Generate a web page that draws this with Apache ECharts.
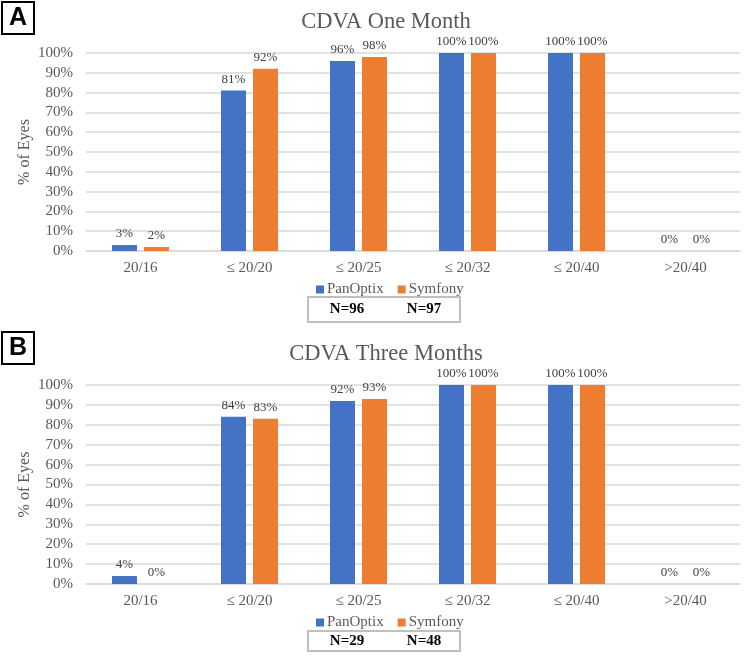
<!DOCTYPE html>
<html>
<head>
<meta charset="utf-8">
<script src="https://cdn.jsdelivr.net/npm/echarts@6/dist/echarts.min.js"></script>
<style>html,body{margin:0;padding:0;background:#fff;}#c{width:751px;height:657px;}</style>
</head>
<body>
<div id="c"></div>
<script>
const categories = ['20/16', '\u2264 20/20', '\u2264 20/25', '\u2264 20/32', '\u2264 20/40', '>20/40'];
const seriesNames = ['PanOptix', 'Symfony'];
const panOptixOneMonth = [3, 81, 96, 100, 100, 0];
const symfonyOneMonth = [2, 92, 98, 100, 100, 0];
const panOptixThreeMonths = [4, 84, 92, 100, 100, 0];
const symfonyThreeMonths = [0, 83, 93, 100, 100, 0];
const nOneMonth = ['N=96', 'N=97'];
const nThreeMonths = ['N=29', 'N=48'];
const titles = ['CDVA One Month', 'CDVA Three Months'];
const panelLetters = ['A', 'B'];
const yAxisName = '% of Eyes';

const SERIF = "'Liberation Serif', 'Times New Roman', serif";
const colors = ['#4472C4', '#ED7D31'];
const grids = [{ left: 86, right: 11, top: 53, height: 198 }, { left: 86, right: 11, top: 385, height: 199 }];

function yAxis(i) {
  return {
    type: 'value', gridIndex: i, min: 0, max: 100, interval: 10,
    name: yAxisName, nameLocation: 'middle', nameGap: 53, nameRotate: 90, nameMoveOverlap: false,
    nameTextStyle: { fontFamily: SERIF, fontSize: 16, color: '#595959' },
    axisLabel: { formatter: '{value}%', fontFamily: SERIF, fontSize: 15, color: '#595959', margin: 13 },
    splitLine: { lineStyle: { color: '#d9d9d9', width: 1.5 } },
    axisLine: { show: false }, axisTick: { show: false }
  };
}
function xAxis(i) {
  return {
    type: 'category', gridIndex: i, data: categories,
    axisLine: { lineStyle: { color: '#d9d9d9', width: 1.5 } }, axisTick: { show: false },
    axisLabel: { fontFamily: SERIF, fontSize: 15, color: '#595959', margin: 10 }
  };
}
function bar(name, data, i, color) {
  return {
    type: 'bar', name: name, data: data, xAxisIndex: i, yAxisIndex: i,
    barWidth: 25, barGap: '28%', itemStyle: { color: color },
    label: { show: true, position: 'top', distance: 5, formatter: '{c}%', fontFamily: SERIF, fontSize: 13, color: '#404040' }
  };
}
function legend(top) {
  return {
    data: seriesNames, top: top, left: 311, icon: 'rect', itemWidth: 8, itemHeight: 8, itemGap: 14,
    textStyle: { fontFamily: SERIF, fontSize: 15, color: '#595959', padding: [0, 0, 0, -2] }
  };
}
function letterBox(y, txt) {
  return [
    { type: 'rect', shape: { x: 2, y: y, width: 32, height: 32 }, style: { fill: '#fff', stroke: '#000', lineWidth: 2 } },
    { type: 'text', x: 18, y: y + 16, style: { text: txt, fontFamily: "'Liberation Sans', Arial, sans-serif", fontWeight: 'bold', fontSize: 25, fill: '#000', align: 'center', verticalAlign: 'middle' } }
  ];
}
function nBox(y, h, labels) {
  return [
    { type: 'rect', shape: { x: 308, y: y, width: 152, height: h }, style: { fill: '#fff', stroke: '#bfbfbf', lineWidth: 2 } },
    { type: 'text', x: 347, y: y + h / 2, style: { text: labels[0], fontFamily: SERIF, fontWeight: 'bold', fontSize: 15, fill: '#000', align: 'center', verticalAlign: 'middle' } },
    { type: 'text', x: 424, y: y + h / 2, style: { text: labels[1], fontFamily: SERIF, fontWeight: 'bold', fontSize: 15, fill: '#000', align: 'center', verticalAlign: 'middle' } }
  ];
}

const chart = echarts.init(document.getElementById('c'), null, { renderer: 'canvas' });
chart.setOption({
  animation: false,
  backgroundColor: '#fff',
  title: [
    { text: titles[0], left: 381, top: 6, textAlign: 'center', textStyle: { fontFamily: SERIF, fontSize: 22.5, fontWeight: 'normal', color: '#595959' } },
    { text: titles[1], left: 381, top: 338, textAlign: 'center', textStyle: { fontFamily: SERIF, fontSize: 22.5, fontWeight: 'normal', color: '#595959' } }
  ],
  legend: [legend(277), legend(610)],
  grid: grids,
  xAxis: [xAxis(0), xAxis(1)],
  yAxis: [yAxis(0), yAxis(1)],
  series: [
    bar(seriesNames[0], panOptixOneMonth, 0, colors[0]),
    bar(seriesNames[1], symfonyOneMonth, 0, colors[1]),
    bar(seriesNames[0], panOptixThreeMonths, 1, colors[0]),
    bar(seriesNames[1], symfonyThreeMonths, 1, colors[1])
  ],
  graphic: [].concat(letterBox(2, panelLetters[0]), letterBox(332, panelLetters[1]), nBox(297, 25, nOneMonth), nBox(631, 20, nThreeMonths))
});
</script>
</body>
</html>
